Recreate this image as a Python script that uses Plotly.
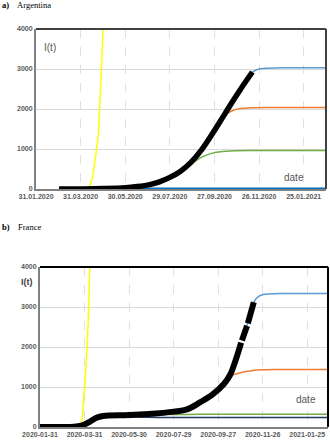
import plotly.graph_objects as go

# ---------------- DATA ----------------
# Argentina
ar_data_dates = ["2020-03-02", "2020-04-01", "2020-05-01", "2020-05-30", "2020-06-15", "2020-07-02",
                 "2020-07-15", "2020-07-29", "2020-08-12", "2020-08-26", "2020-09-08", "2020-09-22",
                 "2020-10-05", "2020-10-19", "2020-11-02", "2020-11-17"]
ar_data_vals = [0, 2, 10, 30, 60, 110, 180, 290, 440, 660, 940, 1320, 1700, 2120, 2520, 2925]

ar_blue_dates = ["2020-11-17", "2020-11-22", "2020-11-28", "2020-12-05", "2020-12-15", "2021-01-01", "2021-02-24"]
ar_blue_vals = [2925, 2975, 3005, 3020, 3028, 3030, 3030]

ar_orange_dates = ["2020-09-22", "2020-10-01", "2020-10-10", "2020-10-20", "2020-11-01", "2020-11-15",
                   "2020-12-05", "2021-02-24"]
ar_orange_vals = [1320, 1600, 1820, 1950, 2010, 2032, 2040, 2040]

ar_green_dates = ["2020-08-05", "2020-08-15", "2020-08-26", "2020-09-08", "2020-09-22", "2020-10-05",
                  "2020-10-25", "2020-11-20", "2021-02-24"]
ar_green_vals = [360, 480, 610, 780, 885, 932, 955, 960, 960]

ar_low_dates = ["2020-03-02", "2020-05-01", "2020-06-15", "2021-02-24"]
ar_low_vals = [0, 5, 12, 14]

ar_yellow_dates = ["2020-04-09", "2020-04-12", "2020-04-16", "2020-04-20", "2020-04-24", "2020-04-26",
                   "2020-04-28", "2020-04-30", "2020-05-02"]
ar_yellow_vals = [0, 60, 300, 800, 1400, 2200, 3000, 4000, 5200]

# France
fr_data_dates = ["2020-01-31", "2020-03-10", "2020-03-20", "2020-03-28", "2020-04-07", "2020-04-16",
                 "2020-04-25", "2020-05-30", "2020-06-30", "2020-07-29", "2020-08-16", "2020-09-03",
                 "2020-09-20", "2020-10-05", "2020-10-13", "2020-10-20", "2020-10-27", "2020-10-28", None,
                 "2020-10-29", "2020-11-04", "2020-11-05", None, "2020-11-06", "2020-11-14"]
fr_data_vals = [0, 0, 10, 40, 130, 230, 275, 300, 330, 385, 440, 620, 820, 1080, 1300, 1640, 2050, 2110, None,
                2160, 2480, 2530, None, 2590, 3120]

fr_blue_dates = ["2020-11-04", "2020-11-14", "2020-11-20", "2020-11-27", "2020-12-05", "2020-12-20",
                 "2021-01-10", "2021-02-22"]
fr_blue_vals = [2480, 3120, 3260, 3310, 3325, 3335, 3340, 3340]

fr_orange_dates = ["2020-10-13", "2020-10-22", "2020-11-01", "2020-11-13", "2020-11-25", "2020-12-10",
                   "2021-01-01", "2021-02-22"]
fr_orange_vals = [1280, 1330, 1380, 1415, 1430, 1438, 1440, 1440]

fr_green_dates = ["2020-07-10", "2020-07-29", "2020-08-16", "2020-09-05", "2021-02-22"]
fr_green_vals = [340, 312, 315, 316, 316]

fr_navy_dates = ["2020-05-20", "2020-06-10", "2020-07-10", "2020-08-10", "2021-02-22"]
fr_navy_vals = [270, 250, 240, 238, 238]

fr_yellow_dates = ["2020-03-24", "2020-03-27", "2020-03-31", "2020-04-03", "2020-04-05", "2020-04-06",
                   "2020-04-07", "2020-04-08"]
fr_yellow_vals = [0, 133, 1008, 1842, 2675, 3300, 4000, 4800]

ar_tickvals = ["2020-01-31", "2020-03-31", "2020-05-30", "2020-07-29", "2020-09-27", "2020-11-26", "2021-01-25"]
ar_ticktext = ["31.01.2020", "31.03.2020", "30.05.2020", "29.07.2020", "27.09.2020", "26.11.2020", "25.01.2021"]
fr_ticktext = ["2020-01-31", "2020-03-31", "2020-05-30", "2020-07-29", "2020-09-27", "2020-11-26", "2021-01-25"]
y_ticks = [0, 1000, 2000, 3000, 4000]

# ---------------- STYLE ----------------
LBLUE = "#5B9BD5"
ORANGE = "#ED7D31"
GREEN = "#70AD47"
DBLUE = "#0070C0"
NAVY = "#203864"
YELLOW = "#FFFF00"
W, H = 330, 440

fig = go.Figure()

def line(x, y, color, width, xa, ya, shape="spline", smoothing=0.8):
    fig.add_trace(go.Scatter(x=x, y=y, mode="lines", xaxis=xa, yaxis=ya,
                             line=dict(color=color, width=width, shape=shape, smoothing=smoothing),
                             connectgaps=False, showlegend=False, hoverinfo="skip"))

# Argentina
line(ar_low_dates, ar_low_vals, DBLUE, 2, "x", "y")
line(ar_green_dates, ar_green_vals, GREEN, 1.5, "x", "y")
line(ar_orange_dates, ar_orange_vals, ORANGE, 1.5, "x", "y")
line(ar_blue_dates, ar_blue_vals, LBLUE, 1.5, "x", "y")
line(ar_yellow_dates, ar_yellow_vals, YELLOW, 1.5, "x", "y")
line(ar_data_dates, ar_data_vals, "black", 5.5, "x", "y", smoothing=1)

# France
line(fr_navy_dates, fr_navy_vals, NAVY, 1.5, "x2", "y2")
line(fr_green_dates, fr_green_vals, GREEN, 1.5, "x2", "y2")
line(fr_orange_dates, fr_orange_vals, ORANGE, 1.5, "x2", "y2")
line(fr_blue_dates, fr_blue_vals, LBLUE, 1.5, "x2", "y2")
line(fr_yellow_dates, fr_yellow_vals, YELLOW, 1.5, "x2", "y2")
line(fr_data_dates, fr_data_vals, "black", 6, "x2", "y2", smoothing=1)

tickfont = dict(family="Liberation Sans", size=7, color="#595959", weight="bold")

def xax(domain, rng, tt, anchor):
    return dict(domain=domain, range=rng, anchor=anchor, type="date", automargin=False,
                tickmode="array", tickvals=ar_tickvals, ticktext=tt, tickfont=tickfont,
                showgrid=True, gridcolor="#e0e0e0", griddash="dash", gridwidth=1,
                showline=True, linecolor="#808080", linewidth=2, ticks="", zeroline=False)

def yax(domain, anchor):
    return dict(domain=domain, range=[0, 4000], anchor=anchor, tickmode="array", tickvals=y_ticks,
                automargin=False, tickfont=tickfont, showgrid=True, gridcolor="#d9d9d9", gridwidth=1,
                showline=True, linecolor="#808080", linewidth=2, ticks="", zeroline=False)

fig.update_layout(
    width=W, height=H, margin=dict(l=0, r=0, t=0, b=0, autoexpand=False),
    paper_bgcolor="white", plot_bgcolor="white",
    xaxis=xax([36 / W, 326 / W], ["2020-01-31", "2021-02-24"], ar_ticktext, "y"),
    yaxis=yax([1 - 189 / H, 1 - 29 / H], "x"),
    xaxis2=xax([40 / W, 328 / W], ["2020-01-31", "2021-02-22"], fr_ticktext, "y2"),
    yaxis2=yax([1 - 427 / H, 1 - 267 / H], "x2"),
)

# frame borders (top and right)
for xr, yr, col in [("x domain", "y domain", "#404040"), ("x2 domain", "y2 domain", "#000000")]:
    fig.add_shape(type="line", xref=xr, yref=yr, x0=0, x1=1, y0=1, y1=1, line=dict(color=col, width=2))
    fig.add_shape(type="line", xref=xr, yref=yr, x0=1, x1=1, y0=0, y1=1, line=dict(color=col, width=2))

def ann(text, x, y, size, color, family="Liberation Sans", xanchor="center"):
    fig.add_annotation(text=text, x=x / W, y=1 - y / H, xref="paper", yref="paper",
                       xanchor=xanchor, yanchor="middle", showarrow=False,
                       font=dict(family=family, size=size, color=color))

ann("<b>a)</b>    Argentina", 0, 5, 8.5, "black", "Liberation Serif", "left")
ann("<b>b)</b>    France", 0, 227, 8.5, "black", "Liberation Serif", "left")
ann("I(t)", 50, 47, 10, "#595959")
ann("date", 294, 177, 10, "#595959")
ann("<b>I(t)</b>", 27, 282, 9, "#404040")
ann("date", 306, 399, 10, "#595959")

fig.write_html("out.html", config={"displayModeBar": False},
               post_script="document.body.style.margin='0';document.body.style.overflow='hidden';")
